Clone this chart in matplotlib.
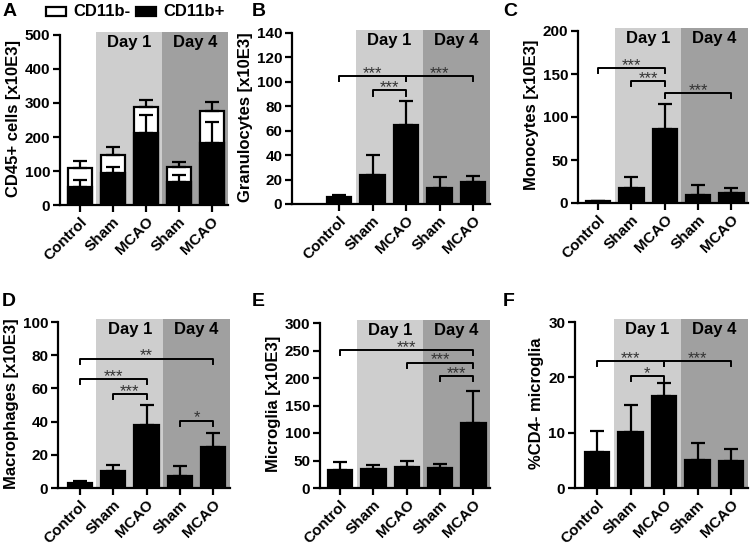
import numpy as np
import matplotlib.pyplot as plt
from matplotlib.patches import Rectangle

plt.rcParams['font.family'] = ['Liberation Sans', 'DejaVu Sans']
plt.rcParams['font.weight'] = 'bold'
plt.rcParams['axes.labelweight'] = 'bold'

groups = ['Control', 'Sham', 'MCAO', 'Sham', 'MCAO']
legend_labels = ['CD11b-', 'CD11b+']

# A: CD45+ cells, stacked CD11b- / CD11b+
cd45_total = [108, 147, 287, 113, 276]
cd45_total_err = [22, 25, 22, 14, 28]
cd11b_pos = [54, 93, 213, 69, 183]
cd11b_pos_err = [19, 20, 52, 19, 62]

# B-F: means and upper SD
gran = [5.5, 24, 64.5, 13, 18.3]
gran_err = [2, 16, 20, 9, 4.7]
mono = [2, 17.5, 86, 9.5, 11.5]
mono_err = [0.8, 12.5, 29.5, 11, 6]
macro = [3, 10, 38, 7.4, 25]
macro_err = [1, 4, 12, 5.6, 8]
micro = [32, 35, 38, 36, 118]
micro_err = [16, 7, 12, 7, 59]
cd4neg = [6.5, 10.1, 16.6, 5.0, 4.8]
cd4neg_err = [3.8, 4.9, 2.4, 3.1, 2.2]

# significance brackets: (from, to, height, label)
sig_b = [(0, 2, 105, '***'), (1, 2, 93, '***'), (2, 4, 105, '***')]
sig_c = [(0, 2, 157, '***'), (1, 2, 142, '***'), (2, 4, 128, '***')]
sig_d = [(0, 4, 78, '**'), (0, 2, 65.5, '***'), (1, 2, 56.4, '***'), (3, 4, 40.6, '*')]
sig_e = [(0, 4, 251, '***'), (2, 4, 228, '***'), (3, 4, 204, '***')]
sig_f = [(0, 2, 23, '***'), (1, 2, 20.2, '*'), (2, 4, 23, '***')]

day1_col = '#cecece'
day4_col = '#a0a0a0'
W, H = 751, 550

fig = plt.figure(figsize=(7.51, 5.50), dpi=100)


def make_axes(left, right, tick_top, bottom, xmin, ymax, ystep, ylabel, letter, lx, ly):
    top = tick_top - 0.02 * (bottom - tick_top)
    ax = fig.add_axes([left / W, 1 - bottom / H, (right - left) / W, (bottom - top) / H])
    ax.axvspan(0.5, 2.5, color=day1_col, lw=0, zorder=0)
    ax.axvspan(2.5, 4.5, color=day4_col, lw=0, zorder=0)
    ax.set_xlim(xmin, 4.5)
    ax.set_ylim(0, ymax * 1.02)
    ax.set_yticks(np.arange(0, ymax + ystep / 2, ystep))
    ax.spines['left'].set_bounds(0, ymax)
    ax.set_xticks(range(5))
    ax.set_xticklabels(groups, rotation=45, ha='right', rotation_mode='anchor')
    for s in ['top', 'right']:
        ax.spines[s].set_visible(False)
    for s in ['left', 'bottom']:
        ax.spines[s].set_linewidth(1.6)
    ax.tick_params(width=1.6, length=5, labelsize=11, pad=2)
    ax.set_ylabel(ylabel, fontsize=12, labelpad=3)
    h = bottom - top
    ax.text(1.5, 1 - 3 / h, 'Day 1', transform=ax.get_xaxis_transform(),
            ha='center', va='top', fontsize=12)
    ax.text(3.5, 1 - 3 / h, 'Day 4', transform=ax.get_xaxis_transform(),
            ha='center', va='top', fontsize=12)
    fig.text(lx / W, 1 - ly / H, letter, fontsize=14, ha='left', va='top')
    return ax


def bars(ax, vals, err, face='black'):
    x = np.arange(len(vals))
    ax.bar(x, vals, width=0.73, color=face, edgecolor='black', linewidth=1.6, zorder=2)
    ax.errorbar(x, vals, yerr=[np.zeros(len(vals)), err], fmt='none', ecolor='black',
                elinewidth=1.6, capsize=5, capthick=1.6, zorder=3)


def brackets(ax, sig, ymax):
    d = ymax * 0.03
    for i, j, y, lab in sig:
        ax.plot([i, i, j, j], [y - d, y, y, y - d], color='black', lw=1.4, zorder=4)
        ax.text((i + j) / 2, y - ymax * 0.03, lab, ha='center', va='bottom',
                fontsize=12, fontweight='normal', color='#333333', zorder=4)


# A
ax = make_axes(60, 228, 35, 205, -0.6, 500, 100, 'CD45+ cells [x10E3]', 'A', 3, 3)
bars(ax, cd45_total, cd45_total_err, face='white')
bars(ax, cd11b_pos, cd11b_pos_err)

# legend drawn by hand above panel A
for x0, face, lab in [(46, 'white', legend_labels[0]), (136, 'black', legend_labels[1])]:
    fig.add_artist(Rectangle((x0 / W, 1 - 16 / H), 20 / W, 9 / H, facecolor=face,
                             edgecolor='black', lw=1.6, transform=fig.transFigure))
    fig.text((x0 + 27) / W, 1 - 11.5 / H, lab, fontsize=12, ha='left', va='center')

# B
ax = make_axes(292, 490, 33, 204, -1.4, 140, 20, 'Granulocytes [x10E3]', 'B', 252, 3)
bars(ax, gran, gran_err)
brackets(ax, sig_b, 140)

# C
ax = make_axes(578, 748, 31, 203, -0.6, 200, 50, 'Monocytes [x10E3]', 'C', 503, 3)
bars(ax, mono, mono_err)
brackets(ax, sig_c, 200)

# D
ax = make_axes(58, 230, 322, 488, -0.65, 100, 20, 'Macrophages [x10E3]', 'D', 2, 293)
bars(ax, macro, macro_err)
brackets(ax, sig_d, 100)

# E
ax = make_axes(320, 490, 323, 488, -0.6, 300, 50, 'Microglia [x10E3]', 'E', 252, 293)
bars(ax, micro, micro_err)
brackets(ax, sig_e, 300)

# F
ax = make_axes(575, 748, 322, 488, -0.66, 30, 10, '%CD4- microglia', 'F', 503, 293)
bars(ax, cd4neg, cd4neg_err)
brackets(ax, sig_f, 30)

plt.savefig('out.png', dpi=100)
